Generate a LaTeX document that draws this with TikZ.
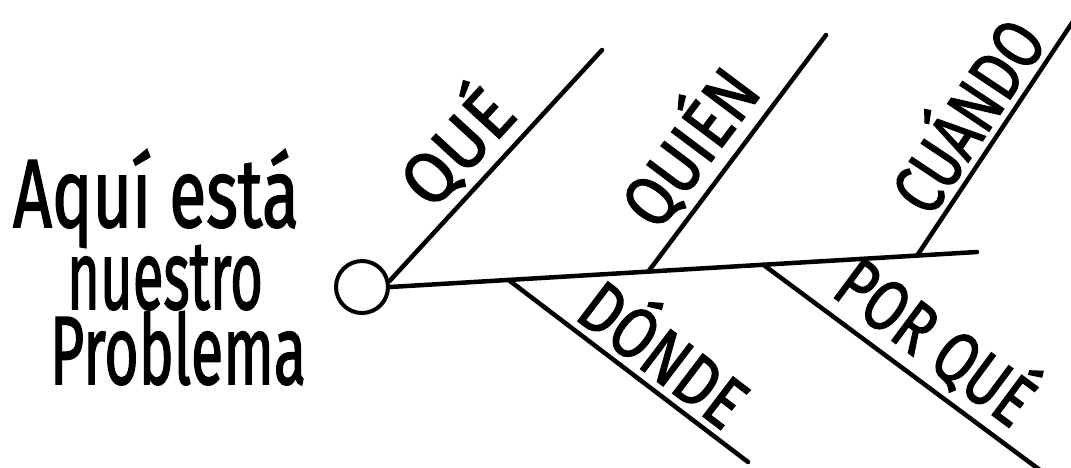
\documentclass[tikz,border=0pt]{standalone}
\usepackage{fontspec}
\setmainfont{Fira Sans}[FakeBold=1.5,AutoFakeBold=0]
\newfontfamily\handfont{Fira Sans}[FakeBold=1.8]
\usepackage{graphicx}
\usetikzlibrary{calc}
\begin{document}
\begin{tikzpicture}[x=1pt,y=-1pt,
  stroke/.style={line width=4.5pt, line cap=round},
  lab/.style={font=\handfont\fontsize{72}{72}\selectfont, inner sep=0pt, sloped, above=6pt},
  big/.style={font=\handfont\fontsize{97}{97}\selectfont, inner sep=0pt, anchor=base}]
\useasboundingbox (0,0) rectangle (1071,467);
% left text
\node[big] (l1) at (156,227) {\scalebox{0.70}[1]{Aquí está}};
\node[big] (l2) at (165,309) {\scalebox{0.58}[1]{nuestro}};
\node[big] (l3) at (178,384) {\scalebox{0.61}[1]{Problema}};
% head
\node[draw, circle, line width=4pt, minimum size=52pt, inner sep=0pt] (c) at (362,287) {};
\coordinate (s1) at (977,252);
\draw[stroke] (c.east) -- (s1);
% bases on spine
\coordinate (b2) at ($(c.east)!0.202!(s1)$);
\coordinate (b3) at ($(c.east)!0.44!(s1)$);
\coordinate (b4) at ($(c.east)!0.636!(s1)$);
\coordinate (b5) at ($(c.east)!0.898!(s1)$);
% ends
\coordinate (e1) at (602,50);
\coordinate (e3) at (826,35);
\coordinate (e5) at (1074,20);
\coordinate (e2) at (748,462);
\coordinate (e4) at (1048,476);
% branches
\draw[stroke] (c.12) -- (e1) node[lab, pos=0.46] (t1) {\scalebox{0.95}[1]{QUÉ}};
\draw[stroke] (b3) -- (e3) node[lab, pos=0.42] (t3) {\scalebox{0.85}[1]{QUIÉN}};
\draw[stroke] (b5) -- (e5) node[lab, pos=0.51] (t5) {\scalebox{0.78}[1]{CUÁNDO}};
\draw[stroke] (b2) -- (e2) node[lab, pos=0.56] (t2) {\scalebox{0.82}[1]{DÓNDE}};
\draw[stroke] (b4) -- (e4) node[lab, pos=0.52] (t4) {\scalebox{0.78}[1]{POR QUÉ}};
\end{tikzpicture}
\end{document}
